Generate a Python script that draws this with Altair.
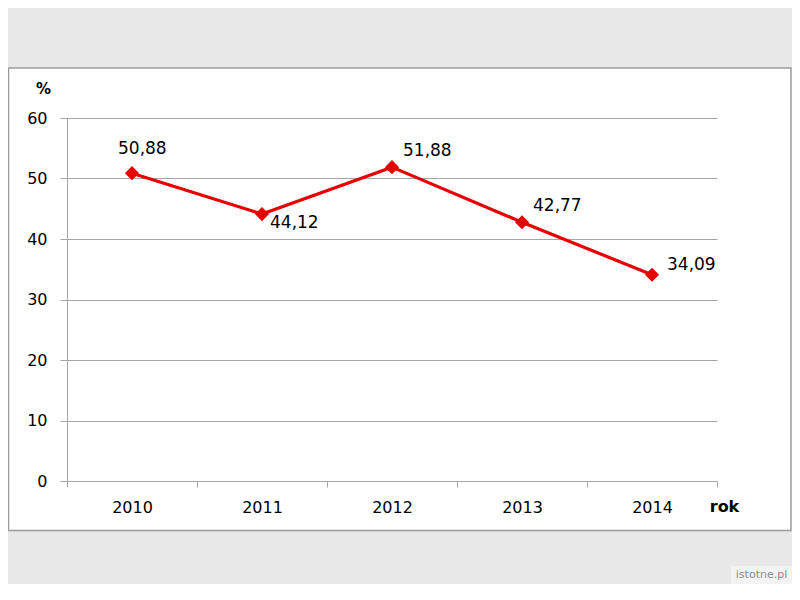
import altair as alt
import pandas as pd

# ---- data ----
years = ["2010", "2011", "2012", "2013", "2014"]
values = [50.88, 44.12, 51.88, 42.77, 34.09]
y_ticks = [0, 10, 20, 30, 40, 50, 60]

df = pd.DataFrame({"rok": years, "pct": values})
df["label"] = [f"{v:.2f}".replace(".", ",") for v in values]

RED = "#e60000"
GRID = "#a6a6a6"
BG = "#e8e8e8"
FONT = "DejaVu Sans"

one = alt.Data(values=[{"k": 1}])

x_enc = alt.X(
    "rok:N", sort=years,
    scale=alt.Scale(type="band", paddingInner=0, paddingOuter=0),
    axis=alt.Axis(
        title="rok", titleX=657, titleY=25, titleAlign="center", titleBaseline="middle",
        titleFont=FONT, titleFontSize=16, titleFontWeight="bold", titleColor="black",
        labelAngle=0, labelFont=FONT, labelFontSize=16, labelColor="black", labelPadding=12,
        tickBand="extent", tickSize=6, tickColor=GRID, domainColor=GRID, grid=False,
    ),
)
y_enc = alt.Y(
    "pct:Q", scale=alt.Scale(domain=[0, 60]),
    axis=alt.Axis(
        values=y_ticks, title="%", titleAngle=0, titleX=-24, titleY=-30,
        titleAlign="center", titleBaseline="middle",
        titleFont=FONT, titleFontSize=15, titleFontWeight="bold", titleColor="black",
        labelFont=FONT, labelFontSize=16, labelColor="black", labelPadding=13,
        tickSize=7, tickColor=GRID, domainColor=GRID,
        grid=True, gridColor=GRID,
    ),
)

# outer grey strips and panel frame (decoration)
top_strip = alt.Chart(one).mark_rect(fill=BG).encode(
    x=alt.value(-59), x2=alt.value(725), y=alt.value(-110), y2=alt.value(-50))
bottom_strip = alt.Chart(one).mark_rect(fill=BG).encode(
    x=alt.value(-59), x2=alt.value(725), y=alt.value(413), y2=alt.value(466))
frame = alt.Chart(one).mark_rect(fill=None, stroke="#9c9c9c", strokeWidth=1.5).encode(
    x=alt.value(-58.5), x2=alt.value(724), y=alt.value(-50), y2=alt.value(412.5))
wm_box = alt.Chart(one).mark_rect(fill="#f3f3f3").encode(
    x=alt.value(664), x2=alt.value(725), y=alt.value(448), y2=alt.value(466))
wm_text = alt.Chart(one).mark_text(
    text="istotne.pl", font=FONT, fontSize=11, color="#8c8c8c", align="center", baseline="middle"
).encode(x=alt.value(694.5), y=alt.value(457))

base = alt.Chart(df)
line = base.mark_line(color=RED, strokeWidth=3.2).encode(x=x_enc, y=y_enc)
pts = base.mark_point(shape="diamond", filled=True, color=RED, size=200, opacity=1).encode(
    x="rok:N", y="pct:Q")

offsets = {"2010": (-14, -24), "2011": (8, 9), "2012": (11, -16), "2013": (11, -16), "2014": (15, -10)}
labels = []
for yr, (ddx, ddy) in offsets.items():
    labels.append(
        base.transform_filter(alt.datum.rok == yr)
        .mark_text(font=FONT, fontSize=17, color="black", align="left", baseline="middle", dx=ddx, dy=ddy)
        .encode(x="rok:N", y="pct:Q", text="label:N")
    )

chart = alt.layer(
    top_strip, bottom_strip, frame, wm_box, wm_text, line, pts, *labels
).properties(
    width=650, height=363,
    padding={"left": 59, "top": 110, "right": 75, "bottom": 103},
    autosize=alt.AutoSizeParams(type="none"),
    background="white",
).configure_view(stroke=None)

chart.save("out.html", embed_options={"renderer": "svg", "actions": False})
